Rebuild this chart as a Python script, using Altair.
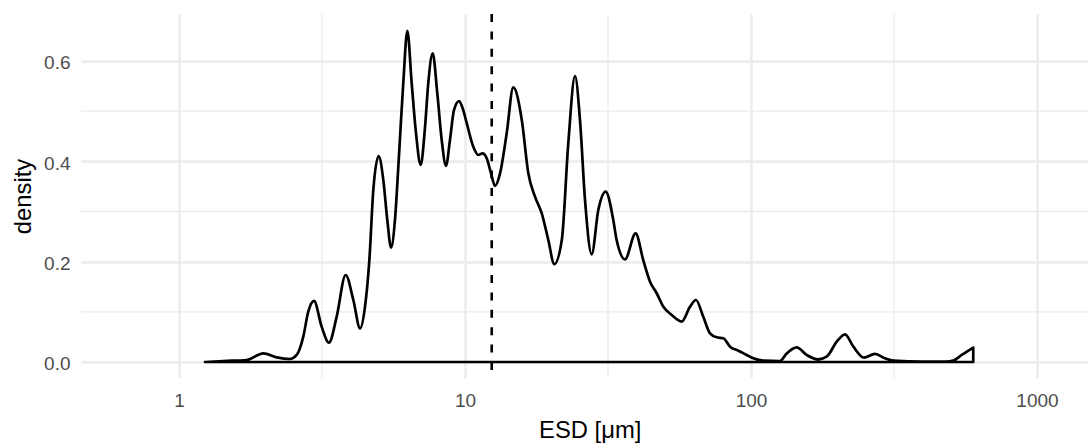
import altair as alt
import pandas as pd

# Kernel density of equivalent spherical diameter (ESD, µm)
esd = [
    1.233, 1.43, 1.725, 1.972, 2.196, 2.443, 2.58, 2.72, 2.83, 2.965,
    3.155, 3.345, 3.558, 3.826, 4.07, 4.296, 4.47, 4.63, 4.78, 4.99,
    5.18, 5.35, 5.512, 5.69, 5.85, 5.93, 6.09, 6.286, 6.51, 6.74,
    7.0, 7.25, 7.44, 7.71, 8.0, 8.29, 8.58, 8.86, 9.15, 9.53,
    9.86, 10.14, 10.69, 11.13, 11.53, 11.91, 12.33, 12.73, 13.26, 13.99,
    14.75, 15.8, 16.65, 17.57, 18.55, 19.56, 20.52, 21.8, 22.97, 24.25,
    25.24, 26.28, 27.73, 29.25, 31.04, 33.0, 33.9, 36.26, 39.5, 42.0,
    44.36, 46.8, 49.4, 52.8, 57.24, 61.2, 64.2, 68.1, 71.9, 75.9,
    80.0, 84.5, 90.3, 96.6, 101.9, 110.4, 126.3, 133.3, 144.5, 156.6,
    171.9, 183.9, 199.4, 213.2, 228.0, 248.3, 271.4, 294.1, 314.6, 400.0,
    480.0, 509.8, 545.5, 598.6,
]
density = [
    0.0, 0.002, 0.004, 0.0173, 0.0093, 0.006, 0.014, 0.0505, 0.100, 0.122,
    0.070, 0.0385, 0.090, 0.1734, 0.1236, 0.067, 0.110, 0.203, 0.343, 0.4106,
    0.363, 0.283, 0.228, 0.283, 0.392, 0.450, 0.560, 0.660, 0.556, 0.456,
    0.393, 0.469, 0.556, 0.615, 0.536, 0.4425, 0.391, 0.4425, 0.502, 0.520,
    0.502, 0.476, 0.429, 0.4126, 0.416, 0.406, 0.376, 0.351, 0.376, 0.456,
    0.5475, 0.482, 0.376, 0.3295, 0.2964, 0.243, 0.195, 0.243, 0.436, 0.570,
    0.482, 0.323, 0.2147, 0.303, 0.3395, 0.283, 0.243, 0.2047, 0.2565, 0.203,
    0.160, 0.137, 0.110, 0.0937, 0.0804, 0.110, 0.1236, 0.090, 0.0572, 0.0492,
    0.0472, 0.0305, 0.0225, 0.014, 0.0073, 0.0027, 0.002, 0.017, 0.0292, 0.014,
    0.0053, 0.0106, 0.0405, 0.0552, 0.0305, 0.0086, 0.016, 0.0073, 0.0027, 0.001,
    0.001, 0.003, 0.014, 0.0285,
]

median_esd = [12.4]

x_major = [1, 10, 100, 1000]
x_minor = [3.162, 31.62, 316.2]
y_major = [0.0, 0.2, 0.4, 0.6]
y_minor = [0.1, 0.3, 0.5]

FONT = "Liberation Sans"
GRID = "#EBEBEB"
W, H = 1007, 364

x_scale = alt.Scale(type="log", domain=[10 ** -0.34266, 10 ** 3.17832], nice=False)
y_scale = alt.Scale(domain=[-0.0319, 0.6936], zero=False, nice=False)

curve_df = pd.DataFrame({"esd": esd, "density": density, "base": [0.0] * len(esd)})

x_axis = alt.Axis(
    values=x_major, format="d", title="ESD [μm]",
    grid=True, gridColor=GRID, gridWidth=2.4,
    domain=False, ticks=False, tickSize=0,
    labelFont=FONT, labelFontSize=19, labelColor="#4D4D4D",
    labelBaseline="alphabetic", labelPadding=28.5,
    labelFlush=False, labelOverlap=False,
    titleFont=FONT, titleFontSize=23.8, titleFontWeight="normal", titleColor="black",
    titleX=508.7, titleY=59, titleBaseline="alphabetic", titleAlign="center",
)
y_axis = alt.Axis(
    values=y_major, format=".1f", title="density",
    grid=True, gridColor=GRID, gridWidth=2.4,
    domain=False, ticks=False, tickSize=0,
    labelFont=FONT, labelFontSize=19, labelColor="#4D4D4D",
    labelBaseline="alphabetic", labelOffset=8, labelPadding=11,
    labelFlush=False, labelOverlap=False,
    titleFont=FONT, titleFontSize=23.8, titleFontWeight="normal", titleColor="black",
    titleX=-51, titleY=182, titleBaseline="alphabetic", titleAlign="center", titleAngle=270,
)

x_enc = alt.X("x:Q", scale=x_scale, axis=x_axis, title="ESD [μm]")

# minor grid lines, halfway between the major ones
minor_v = alt.Chart(pd.DataFrame({"x": x_minor})).mark_rule(
    color=GRID, strokeWidth=1.3
).encode(x=x_enc)

minor_h = alt.Chart(pd.DataFrame({"y": y_minor})).mark_rule(
    color=GRID, strokeWidth=1.3
).encode(y=alt.Y("y:Q", scale=y_scale, axis=y_axis, title="density"))

# density outline, closed along the zero baseline
curve = alt.Chart(curve_df).mark_area(
    interpolate="monotone", fillOpacity=0, stroke="black", strokeWidth=2.7,
    strokeJoin="round",
).encode(
    x=alt.X("esd:Q", scale=x_scale, axis=x_axis, title="ESD [μm]"),
    y=alt.Y("density:Q", scale=y_scale, axis=y_axis, stack=None, title="density"),
    y2="base:Q",
)

# median ESD
median_line = alt.Chart(pd.DataFrame({"x": median_esd})).mark_rule(
    color="black", strokeWidth=2.6, strokeDash=[8, 9.4]
).encode(x=x_enc)

chart = alt.layer(minor_v, minor_h, curve, median_line).properties(
    width=W, height=H,
    autosize=alt.AutoSizeParams(type="none"),
    padding={"left": 81, "top": 14, "right": 0, "bottom": 67},
    background="white",
).configure_view(stroke=None)

chart.save("out.html", embed_options={"renderer": "svg", "actions": False})
